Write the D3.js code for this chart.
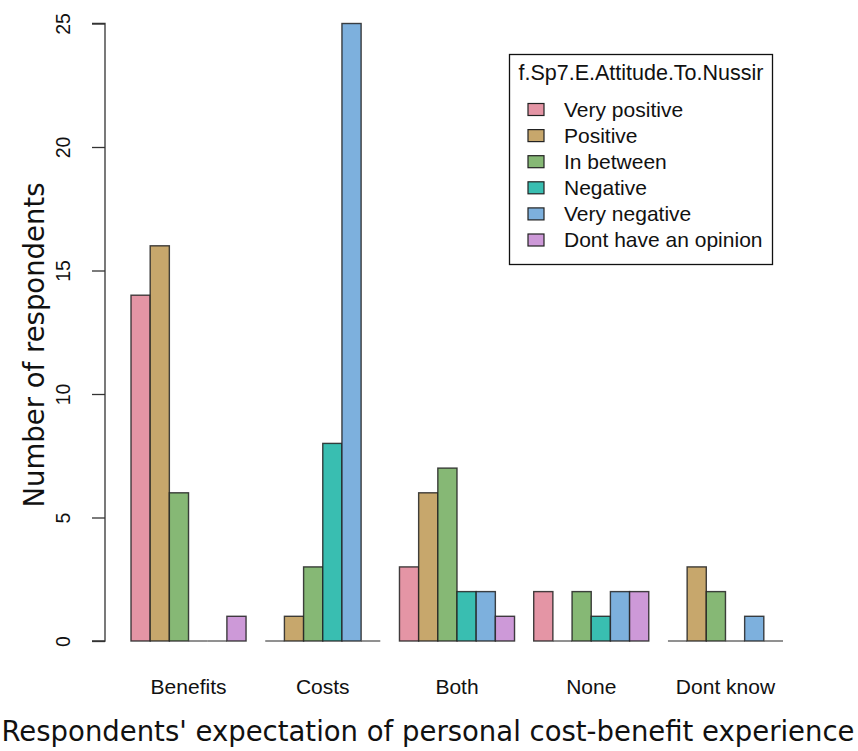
<!DOCTYPE html>
<html><head><meta charset="utf-8">
<script src="https://cdn.jsdelivr.net/npm/d3@7"></script>
<style>body{margin:0;background:#fff}</style>
</head><body>
<svg id="chart" width="858" height="751"></svg>
<script>
const categories = ["Benefits", "Costs", "Both", "None", "Dont know"];
const seriesNames = ["Very positive", "Positive", "In between", "Negative", "Very negative", "Dont have an opinion"];
const veryPositive = [14, 0, 3, 2, 0];
const positive     = [16, 1, 6, 0, 3];
const inBetween    = [6, 3, 7, 2, 2];
const negative     = [0, 8, 2, 1, 0];
const veryNegative = [0, 25, 2, 2, 1];
const noOpinion    = [1, 0, 1, 2, 0];
const colors = ["#E495A5", "#C7A76C", "#86B875", "#39BEB1", "#7DB0DD", "#CD99D8"];
const yTicks = [0, 5, 10, 15, 20, 25];
const legendTitle = "f.Sp7.E.Attitude.To.Nussir";
const xTitle = "Respondents' expectation of personal cost-benefit experience";
const yTitle = "Number of respondents";

const seriesValues = [veryPositive, positive, inBetween, negative, veryNegative, noOpinion];
const SANS = "'Liberation Sans', Arial, sans-serif";
const DEJA = "'DejaVu Sans', Verdana, sans-serif";

const svg = d3.select("#chart");
const x0 = d3.scaleBand().domain(categories).range([131, 783]).paddingInner(1/7).paddingOuter(0);
const x1 = d3.scaleBand().domain(seriesNames).range([0, x0.bandwidth()]).padding(0);
const y = d3.scaleLinear().domain([0, 25]).range([641, 23.5]);

// bars
categories.forEach((c, ci) => {
  const g = svg.append("g").attr("transform", `translate(${x0(c)},0)`);
  seriesNames.forEach((s, si) => {
    const v = seriesValues[si][ci];
    if (v === 0) {
      g.append("line")
        .attr("x1", x1(s)).attr("x2", x1(s) + x1.bandwidth())
        .attr("y1", y(0)).attr("y2", y(0))
        .attr("stroke", "#555").attr("stroke-width", 1.3);
    } else {
      g.append("rect")
        .attr("x", x1(s)).attr("width", x1.bandwidth())
        .attr("y", y(v)).attr("height", y(0) - y(v))
        .attr("fill", colors[si])
        .attr("stroke", "#222").attr("stroke-opacity", 0.85).attr("stroke-width", 1.4);
    }
  });
});

// y axis
const yAxis = d3.axisLeft(y).tickValues(yTicks).tickSize(13).tickPadding(0).tickFormat(d3.format("d"));
const ya = svg.append("g").attr("transform", "translate(105,0)").call(yAxis);
ya.select(".domain").attr("stroke", "#333").attr("stroke-width", 1.3)
  .attr("d", `M-13,${y(25)}H0V${y(0)}H-13`);
ya.selectAll(".tick line").attr("stroke", "#333").attr("stroke-width", 1.3);
ya.selectAll(".tick text")
  .attr("font-family", SANS).attr("font-size", 19.5).attr("fill", "#111")
  .attr("transform", d => `translate(-42,0) rotate(-90)`)
  .attr("x", 0).attr("dy", "0.35em").attr("text-anchor", "middle");

// category labels
const xa = d3.axisBottom(x0).tickSize(0).tickPadding(0);
const xg = svg.append("g").attr("transform", "translate(0,694)").call(xa);
xg.select(".domain").remove();
xg.selectAll(".tick text").attr("font-family", SANS)
  .attr("font-size", 21).attr("fill", "#111").attr("dy", "0");

// axis titles
svg.append("text").attr("x", 428).attr("y", 741).attr("text-anchor", "middle")
  .attr("font-family", DEJA).attr("font-size", 27.5).attr("fill", "#111")
  .text(xTitle);
svg.append("text").attr("transform", "translate(44,345) rotate(-90)").attr("text-anchor", "middle")
  .attr("font-family", DEJA).attr("font-size", 27.5).attr("fill", "#111")
  .text(yTitle);

// legend
const lg = svg.append("g");
lg.append("rect").attr("x", 509.5).attr("y", 54.5).attr("width", 263).attr("height", 210)
  .attr("fill", "#fff").attr("stroke", "#111").attr("stroke-width", 1.3);
lg.append("text").attr("x", 641).attr("y", 80).attr("text-anchor", "middle")
  .attr("font-family", SANS).attr("font-size", 21.5).attr("fill", "#111")
  .text(legendTitle);
const ly = d3.scalePoint().domain(seriesNames).range([109.5, 240]);
seriesNames.forEach((s, i) => {
  lg.append("rect").attr("x", 528).attr("y", ly(s) - 6).attr("width", 16).attr("height", 12)
    .attr("fill", colors[i]).attr("stroke", "#222").attr("stroke-width", 1.2);
  lg.append("text").attr("x", 564).attr("y", ly(s)).attr("dy", "0.35em")
    .attr("font-family", SANS).attr("font-size", 21).attr("fill", "#111")
    .text(s);
});
</script>
</body></html>
